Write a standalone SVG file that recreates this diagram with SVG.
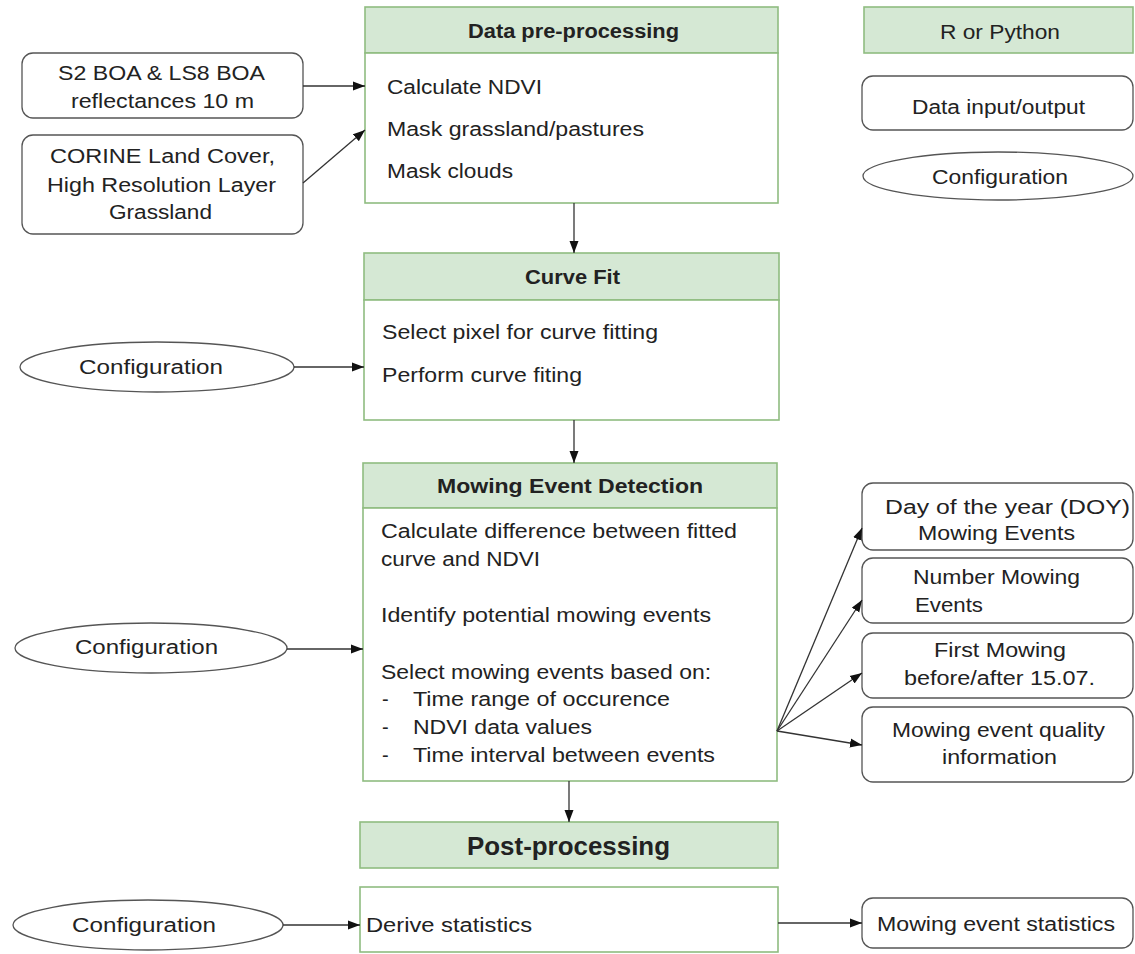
<svg xmlns="http://www.w3.org/2000/svg" width="1135" height="954" viewBox="0 0 1135 954">
<style>
.hdr{fill:#d5e8d4;stroke:#8fbc80;stroke-width:1.6}
.body{fill:#ffffff;stroke:#8fbc80;stroke-width:1.6}
.io{fill:#ffffff;stroke:#555555;stroke-width:1.3}
text{font-family:"Liberation Sans",Arial,sans-serif;font-size:20px;fill:#222222;dominant-baseline:central}
.b{font-weight:bold}
.conn line{stroke:#333333;stroke-width:1.3;marker-end:url(#arr)}
</style>
<defs>
<marker id="arr" markerUnits="userSpaceOnUse" markerWidth="12" markerHeight="10" refX="12" refY="5" orient="auto">
<path d="M0,0.5 L12,5 L0,9.5 z" fill="#111111"/>
</marker>
</defs>
<rect width="1135" height="954" fill="#ffffff"/>

<g id="s2">
<rect class="io" x="22" y="53" width="281" height="65" rx="11"/>
<text x="58" y="73" textLength="207" lengthAdjust="spacingAndGlyphs">S2 BOA &amp; LS8 BOA</text>
<text x="71" y="101" textLength="183" lengthAdjust="spacingAndGlyphs">reflectances 10 m</text>
</g>
<g id="corine">
<rect class="io" x="22" y="135" width="281" height="99" rx="11"/>
<text x="50" y="156" textLength="225" lengthAdjust="spacingAndGlyphs">CORINE Land Cover,</text>
<text x="47" y="185" textLength="229" lengthAdjust="spacingAndGlyphs">High Resolution Layer</text>
<text x="109" y="212" textLength="103" lengthAdjust="spacingAndGlyphs">Grassland</text>
</g>
<g id="preprocessing">
<rect class="hdr" x="365" y="7" width="413" height="46"/>
<rect class="body" x="365" y="53" width="413" height="150"/>
<text class="b" x="468" y="31" textLength="211" lengthAdjust="spacingAndGlyphs">Data pre-processing</text>
<text x="387" y="87" textLength="155" lengthAdjust="spacingAndGlyphs">Calculate NDVI</text>
<text x="387" y="129" textLength="257" lengthAdjust="spacingAndGlyphs">Mask grassland/pastures</text>
<text x="387" y="171" textLength="126" lengthAdjust="spacingAndGlyphs">Mask clouds</text>
</g>
<g id="legend-r">
<rect class="hdr" x="864" y="7" width="269" height="46"/>
<text x="940" y="32" textLength="120" lengthAdjust="spacingAndGlyphs">R or Python</text>
</g>
<g id="legend-io">
<rect class="io" x="862" y="76" width="271" height="54" rx="11"/>
<text x="912" y="107" textLength="173" lengthAdjust="spacingAndGlyphs">Data input/output</text>
</g>
<g id="legend-cfg">
<ellipse class="io" cx="998" cy="176" rx="135" ry="24"/>
<text x="932" y="177" textLength="136" lengthAdjust="spacingAndGlyphs">Configuration</text>
</g>

<g id="curvefit">
<rect class="hdr" x="364" y="253" width="415" height="47"/>
<rect class="body" x="364" y="300" width="415" height="120"/>
<text class="b" x="525" y="277" textLength="95" lengthAdjust="spacingAndGlyphs">Curve Fit</text>
<text x="382" y="332" textLength="276" lengthAdjust="spacingAndGlyphs">Select pixel  for curve fitting</text>
<text x="382" y="375" textLength="200" lengthAdjust="spacingAndGlyphs">Perform curve fiting</text>
</g>
<g id="config1">
<ellipse class="io" cx="157" cy="367" rx="137" ry="25"/>
<text x="79" y="367" textLength="144" lengthAdjust="spacingAndGlyphs">Configuration</text>
</g>

<g id="mowing">
<rect class="hdr" x="363" y="463" width="414" height="45"/>
<rect class="body" x="363" y="508" width="414" height="273"/>
<text class="b" x="437" y="486" textLength="266" lengthAdjust="spacingAndGlyphs">Mowing Event Detection</text>
<text x="381" y="531" textLength="356" lengthAdjust="spacingAndGlyphs">Calculate difference between fitted</text>
<text x="381" y="559" textLength="159" lengthAdjust="spacingAndGlyphs">curve and NDVI</text>
<text x="381" y="615" textLength="330" lengthAdjust="spacingAndGlyphs">Identify potential mowing  events</text>
<text x="381" y="672" textLength="330" lengthAdjust="spacingAndGlyphs">Select mowing  events based on:</text>
<text x="382" y="699">-</text>
<text x="413" y="699" textLength="257" lengthAdjust="spacingAndGlyphs">Time range of occurence</text>
<text x="382" y="727">-</text>
<text x="413" y="727" textLength="179" lengthAdjust="spacingAndGlyphs">NDVI  data values</text>
<text x="382" y="755">-</text>
<text x="413" y="755" textLength="302" lengthAdjust="spacingAndGlyphs">Time  interval between events</text>
</g>
<g id="config2">
<ellipse class="io" cx="151" cy="648" rx="136" ry="25"/>
<text x="75" y="647" textLength="143" lengthAdjust="spacingAndGlyphs">Configuration</text>
</g>
<g id="out-doy">
<rect class="io" x="862" y="483" width="271" height="67" rx="11"/>
<text x="885" y="507" textLength="245" lengthAdjust="spacingAndGlyphs">Day of the year (DOY)</text>
<text x="918" y="533" textLength="157" lengthAdjust="spacingAndGlyphs">Mowing Events</text>
</g>
<g id="out-number">
<rect class="io" x="862" y="558" width="271" height="65" rx="11"/>
<text x="913" y="577" textLength="167" lengthAdjust="spacingAndGlyphs">Number  Mowing</text>
<text x="915" y="605" textLength="68" lengthAdjust="spacingAndGlyphs">Events</text>
</g>
<g id="out-first">
<rect class="io" x="862" y="633" width="271" height="65" rx="11"/>
<text x="934" y="650" textLength="132" lengthAdjust="spacingAndGlyphs">First Mowing</text>
<text x="904" y="678" textLength="191" lengthAdjust="spacingAndGlyphs">before/after 15.07.</text>
</g>
<g id="out-quality">
<rect class="io" x="862" y="707" width="271" height="75" rx="11"/>
<text x="892" y="730" textLength="213" lengthAdjust="spacingAndGlyphs">Mowing event quality</text>
<text x="942" y="757" textLength="115" lengthAdjust="spacingAndGlyphs">information</text>
</g>

<g id="postprocessing">
<rect class="hdr" x="360" y="822" width="418" height="46"/>
<text class="b" x="467" y="846" textLength="203" lengthAdjust="spacingAndGlyphs" style="font-size:25px">Post-processing</text>
</g>
<g id="derive">
<rect class="body" x="360" y="887" width="418" height="65"/>
<text x="366" y="925" textLength="166" lengthAdjust="spacingAndGlyphs">Derive statistics</text>
</g>
<g id="config3">
<ellipse class="io" cx="148" cy="925" rx="135" ry="25"/>
<text x="72" y="925" textLength="144" lengthAdjust="spacingAndGlyphs">Configuration</text>
</g>
<g id="out-stats">
<rect class="io" x="862" y="898" width="271" height="50" rx="11"/>
<text x="877" y="924" textLength="238" lengthAdjust="spacingAndGlyphs">Mowing event statistics</text>
</g>

<g id="connectors" class="conn">
<line x1="303" y1="86" x2="365" y2="86"/>
<line x1="303" y1="183" x2="365" y2="130"/>
<line x1="574" y1="203" x2="574" y2="253"/>
<line x1="294" y1="367" x2="364" y2="367"/>
<line x1="574" y1="420" x2="574" y2="463"/>
<line x1="287" y1="649" x2="363" y2="649"/>
<line x1="777" y1="731" x2="862" y2="528"/>
<line x1="777" y1="731" x2="862" y2="600"/>
<line x1="777" y1="731" x2="862" y2="673"/>
<line x1="777" y1="731" x2="862" y2="745"/>
<line x1="569" y1="781" x2="569" y2="822"/>
<line x1="283" y1="925" x2="360" y2="925"/>
<line x1="778" y1="923" x2="862" y2="923"/>
</g>
</svg>
